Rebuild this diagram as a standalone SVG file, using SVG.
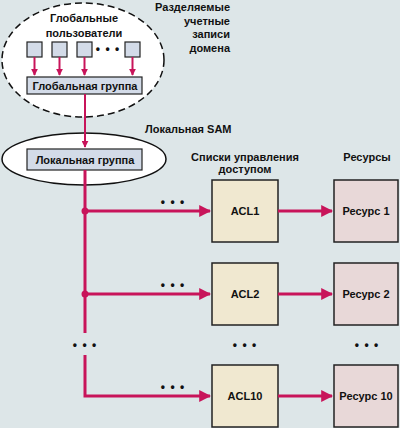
<svg xmlns="http://www.w3.org/2000/svg" width="400" height="428" viewBox="0 0 400 428">
<defs>
<style>
text{font-family:"Liberation Sans Narrow","Liberation Sans",Arial,sans-serif;font-weight:bold;font-size:11px;fill:#111}
.c{text-anchor:middle}
.r{text-anchor:end}
.red{stroke:#c8145a;stroke-width:3;fill:none}
.thin{stroke:#c8145a;stroke-width:2;fill:none}
.ub{fill:#d3dbe8;stroke:#222;stroke-width:1.2}
.grp{fill:#d3dbe8;stroke:#222;stroke-width:1.2}
.acl{fill:#f0e8d0;stroke:#222;stroke-width:1.5}
.res{fill:#e8d8d8;stroke:#222;stroke-width:1.5}
.dots{font-size:12px;letter-spacing:1px}
</style>
<marker id="ah" viewBox="0 0 10 10" refX="9" refY="5" markerWidth="3.5" markerHeight="3.5" orient="auto" markerUnits="strokeWidth">
<path d="M0,0 L10,5 L0,10 z" fill="#c8145a"/>
</marker>
<marker id="ah2" viewBox="0 0 10 10" refX="9" refY="5" markerWidth="4" markerHeight="4" orient="auto" markerUnits="strokeWidth">
<path d="M0,0 L10,5 L0,10 z" fill="#c8145a"/>
</marker>
</defs>
<rect width="400" height="428" fill="#dde6e8"/>

<g id="domain">
<ellipse cx="83" cy="60" rx="81" ry="57" fill="#fff" stroke="#111" stroke-width="1.5" stroke-dasharray="7,4"/>
<text class="c" x="84" y="22">Глобальные</text>
<text class="c" x="84" y="37">пользователи</text>
<text class="r" x="230" y="11">Разделяемые</text>
<text class="r" x="230" y="25">учетные</text>
<text class="r" x="230" y="38">записи</text>
<text class="r" x="230" y="52">домена</text>
</g>

<g id="users">
<rect class="ub" x="27" y="42" width="15" height="15"/>
<rect class="ub" x="52" y="42" width="15" height="15"/>
<rect class="ub" x="77" y="42" width="15" height="15"/>
<rect class="ub" x="125" y="42" width="15" height="15"/>
<text class="c dots" x="108" y="53">• • •</text>
</g>

<g id="global-group">
<rect class="grp" x="27" y="77" width="115" height="17"/>
<text class="c" x="85" y="90">Глобальная группа</text>
</g>

<g id="local-sam">
<ellipse cx="84" cy="159" rx="82" ry="26" fill="#fff" stroke="#111" stroke-width="1.5"/>
<text x="145" y="133">Локальная SAM</text>
</g>

<g id="local-group">
<rect class="grp" x="27" y="149" width="115" height="21"/>
<text class="c" x="85" y="164">Локальная группа</text>
</g>

<g id="headers">
<text class="c" x="245" y="161">Списки управления</text>
<text class="c" x="245" y="173">доступом</text>
<text class="c" x="367" y="161">Ресурсы</text>
</g>

<g id="acl1"><rect class="acl" x="212" y="180" width="66" height="62"/><text class="c" x="245" y="215">ACL1</text></g>
<g id="acl2"><rect class="acl" x="212" y="263" width="66" height="62"/><text class="c" x="245" y="298">ACL2</text></g>
<g id="acl10"><rect class="acl" x="212" y="365" width="66" height="62"/><text class="c" x="245" y="400">ACL10</text></g>
<g id="res1"><rect class="res" x="334" y="180" width="64" height="62"/><text class="c" x="366" y="215">Ресурс 1</text></g>
<g id="res2"><rect class="res" x="334" y="263" width="64" height="62"/><text class="c" x="366" y="298">Ресурс 2</text></g>
<g id="res10"><rect class="res" x="334" y="365" width="64" height="62"/><text class="c" x="366" y="400">Ресурс 10</text></g>

<g id="connectors">
<line class="thin" x1="34.5" y1="57" x2="34.5" y2="75" marker-end="url(#ah)"/>
<line class="thin" x1="59.5" y1="57" x2="59.5" y2="75" marker-end="url(#ah)"/>
<line class="thin" x1="84.5" y1="57" x2="84.5" y2="75" marker-end="url(#ah)"/>
<line class="thin" x1="132.5" y1="57" x2="132.5" y2="75" marker-end="url(#ah)"/>
<line class="thin" x1="85" y1="94" x2="85" y2="147" marker-end="url(#ah)"/>
<line class="red" x1="85" y1="170" x2="85" y2="333"/>
<polyline class="red" points="85,355 85,396 210,396" marker-end="url(#ah2)"/>
<line class="red" x1="85" y1="211" x2="210" y2="211" marker-end="url(#ah2)"/>
<line class="red" x1="85" y1="294" x2="210" y2="294" marker-end="url(#ah2)"/>
<line class="red" x1="278" y1="211" x2="332" y2="211" marker-end="url(#ah2)"/>
<line class="red" x1="278" y1="294" x2="332" y2="294" marker-end="url(#ah2)"/>
<line class="red" x1="278" y1="396" x2="332" y2="396" marker-end="url(#ah2)"/>
<circle cx="85" cy="211" r="3.5" fill="#c8145a"/>
<circle cx="85" cy="294" r="3.5" fill="#c8145a"/>
<text class="c dots" x="173" y="206">• • •</text>
<text class="c dots" x="173" y="289">• • •</text>
<text class="c dots" x="173" y="391">• • •</text>
<text class="c dots" x="85" y="349">• • •</text>
<text class="c dots" x="245" y="349">• • •</text>
<text class="c dots" x="367" y="349">• • •</text>
</g>
</svg>
